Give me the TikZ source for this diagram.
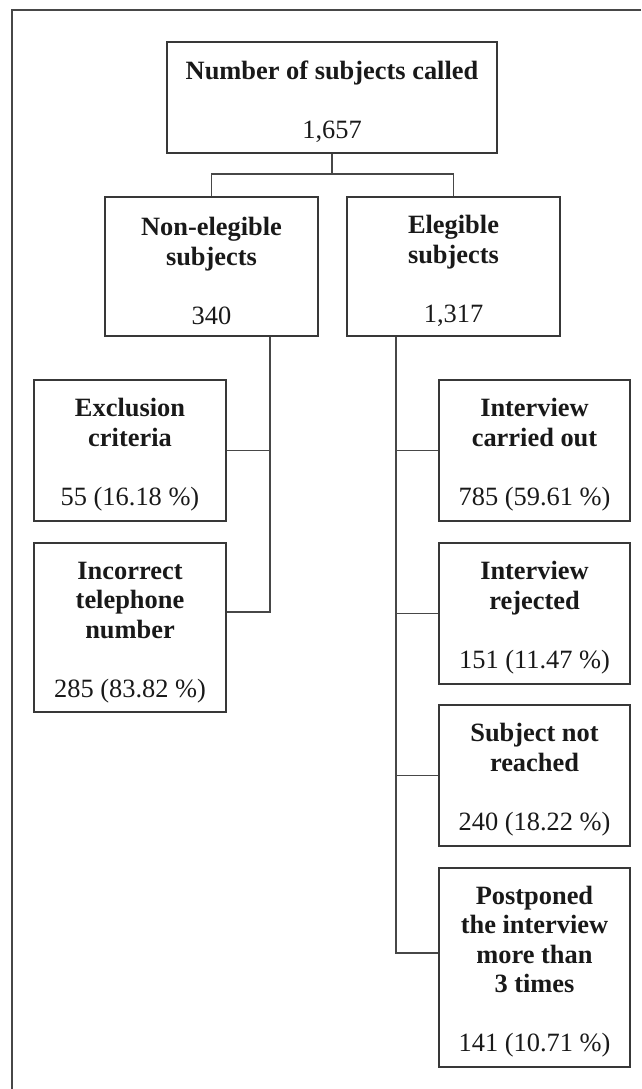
\documentclass[tikz,border=0pt]{standalone}
\usepackage{fontspec}
\setmainfont{Liberation Serif}
\usepackage{tikz}
\usetikzlibrary{positioning,calc}

\tikzset{
    box/.style={draw=black!78, line width=1.5pt, align=center, inner sep=0pt,
        font=\fontsize{26.4}{29.5}\selectfont, text=black!90},
    link/.style={draw=black!72, line width=1.4pt}
}
\newcommand{\boxstrut}{\rule{0pt}{27pt}}

\begin{document}
\begin{tikzpicture}[x=1pt, y=-1pt]
    \useasboundingbox (0,0) rectangle (641,1089);
    % frame, cut at the right and bottom edges
    \draw[link] (641,10) -- (12,10) -- (12,1089);

    \node[box, minimum width=330, minimum height=111] (called) at (332,97.5)
        {\boxstrut\textbf{Number of subjects called}\\[29.5pt]1,657};
    \node[box, minimum width=213, minimum height=139] (nonel) at (211.5,266.5)
        {\boxstrut\textbf{Non-elegible}\\\textbf{subjects}\\[29.5pt]340};
    \node[box, minimum width=213, minimum height=139] (elig) at (453.5,266.5)
        {\boxstrut\textbf{Elegible}\\\textbf{subjects}\\[29.5pt]1,317};

    \node[box, minimum width=192, minimum height=141] (excl) at (130,450.5)
        {\boxstrut\textbf{Exclusion}\\\textbf{criteria}\\[29.5pt]55 (16.18 \%)};
    \node[box, minimum width=192, minimum height=169] (incor) at (130,627.5)
        {\boxstrut\textbf{Incorrect}\\\textbf{telephone}\\\textbf{number}\\[29.5pt]285 (83.82 \%)};

    \node[box, minimum width=191, minimum height=141] (carried) at (534.5,450.5)
        {\boxstrut\textbf{Interview}\\\textbf{carried out}\\[29.5pt]785 (59.61 \%)};
    \node[box, minimum width=191, minimum height=141] (rejected) at (534.5,613.5)
        {\boxstrut\textbf{Interview}\\\textbf{rejected}\\[29.5pt]151 (11.47 \%)};
    \node[box, minimum width=191, minimum height=141] (notreached) at (534.5,775.5)
        {\boxstrut\textbf{Subject not}\\\textbf{reached}\\[29.5pt]240 (18.22 \%)};
    \node[box, minimum width=191, minimum height=199] (postponed) at (534.5,967.5)
        {\boxstrut\textbf{Postponed}\\\textbf{the interview}\\\textbf{more than}\\\textbf{3 times}\\[29.5pt]141 (10.71 \%)};

    % split under the first box
    \coordinate (split) at (332,174);
    \draw[link] (called.south) -- (split);
    \draw[link] (nonel.north) |- (split) -| (elig.north);

    % left trunk
    \coordinate (lend) at (270,612);
    \draw[link] (nonel.south -| lend) -- (lend) -- (lend -| incor.east);
    \draw[link] (excl.east) -- (excl.east -| lend);

    % right trunk
    \coordinate (rend) at (396,953);
    \draw[link] (elig.south -| rend) -- (rend) -- (rend -| postponed.west);
    \foreach \n in {carried,rejected,notreached}
        \draw[link] (\n.west) -- (\n.west -| rend);
\end{tikzpicture}
\end{document}
